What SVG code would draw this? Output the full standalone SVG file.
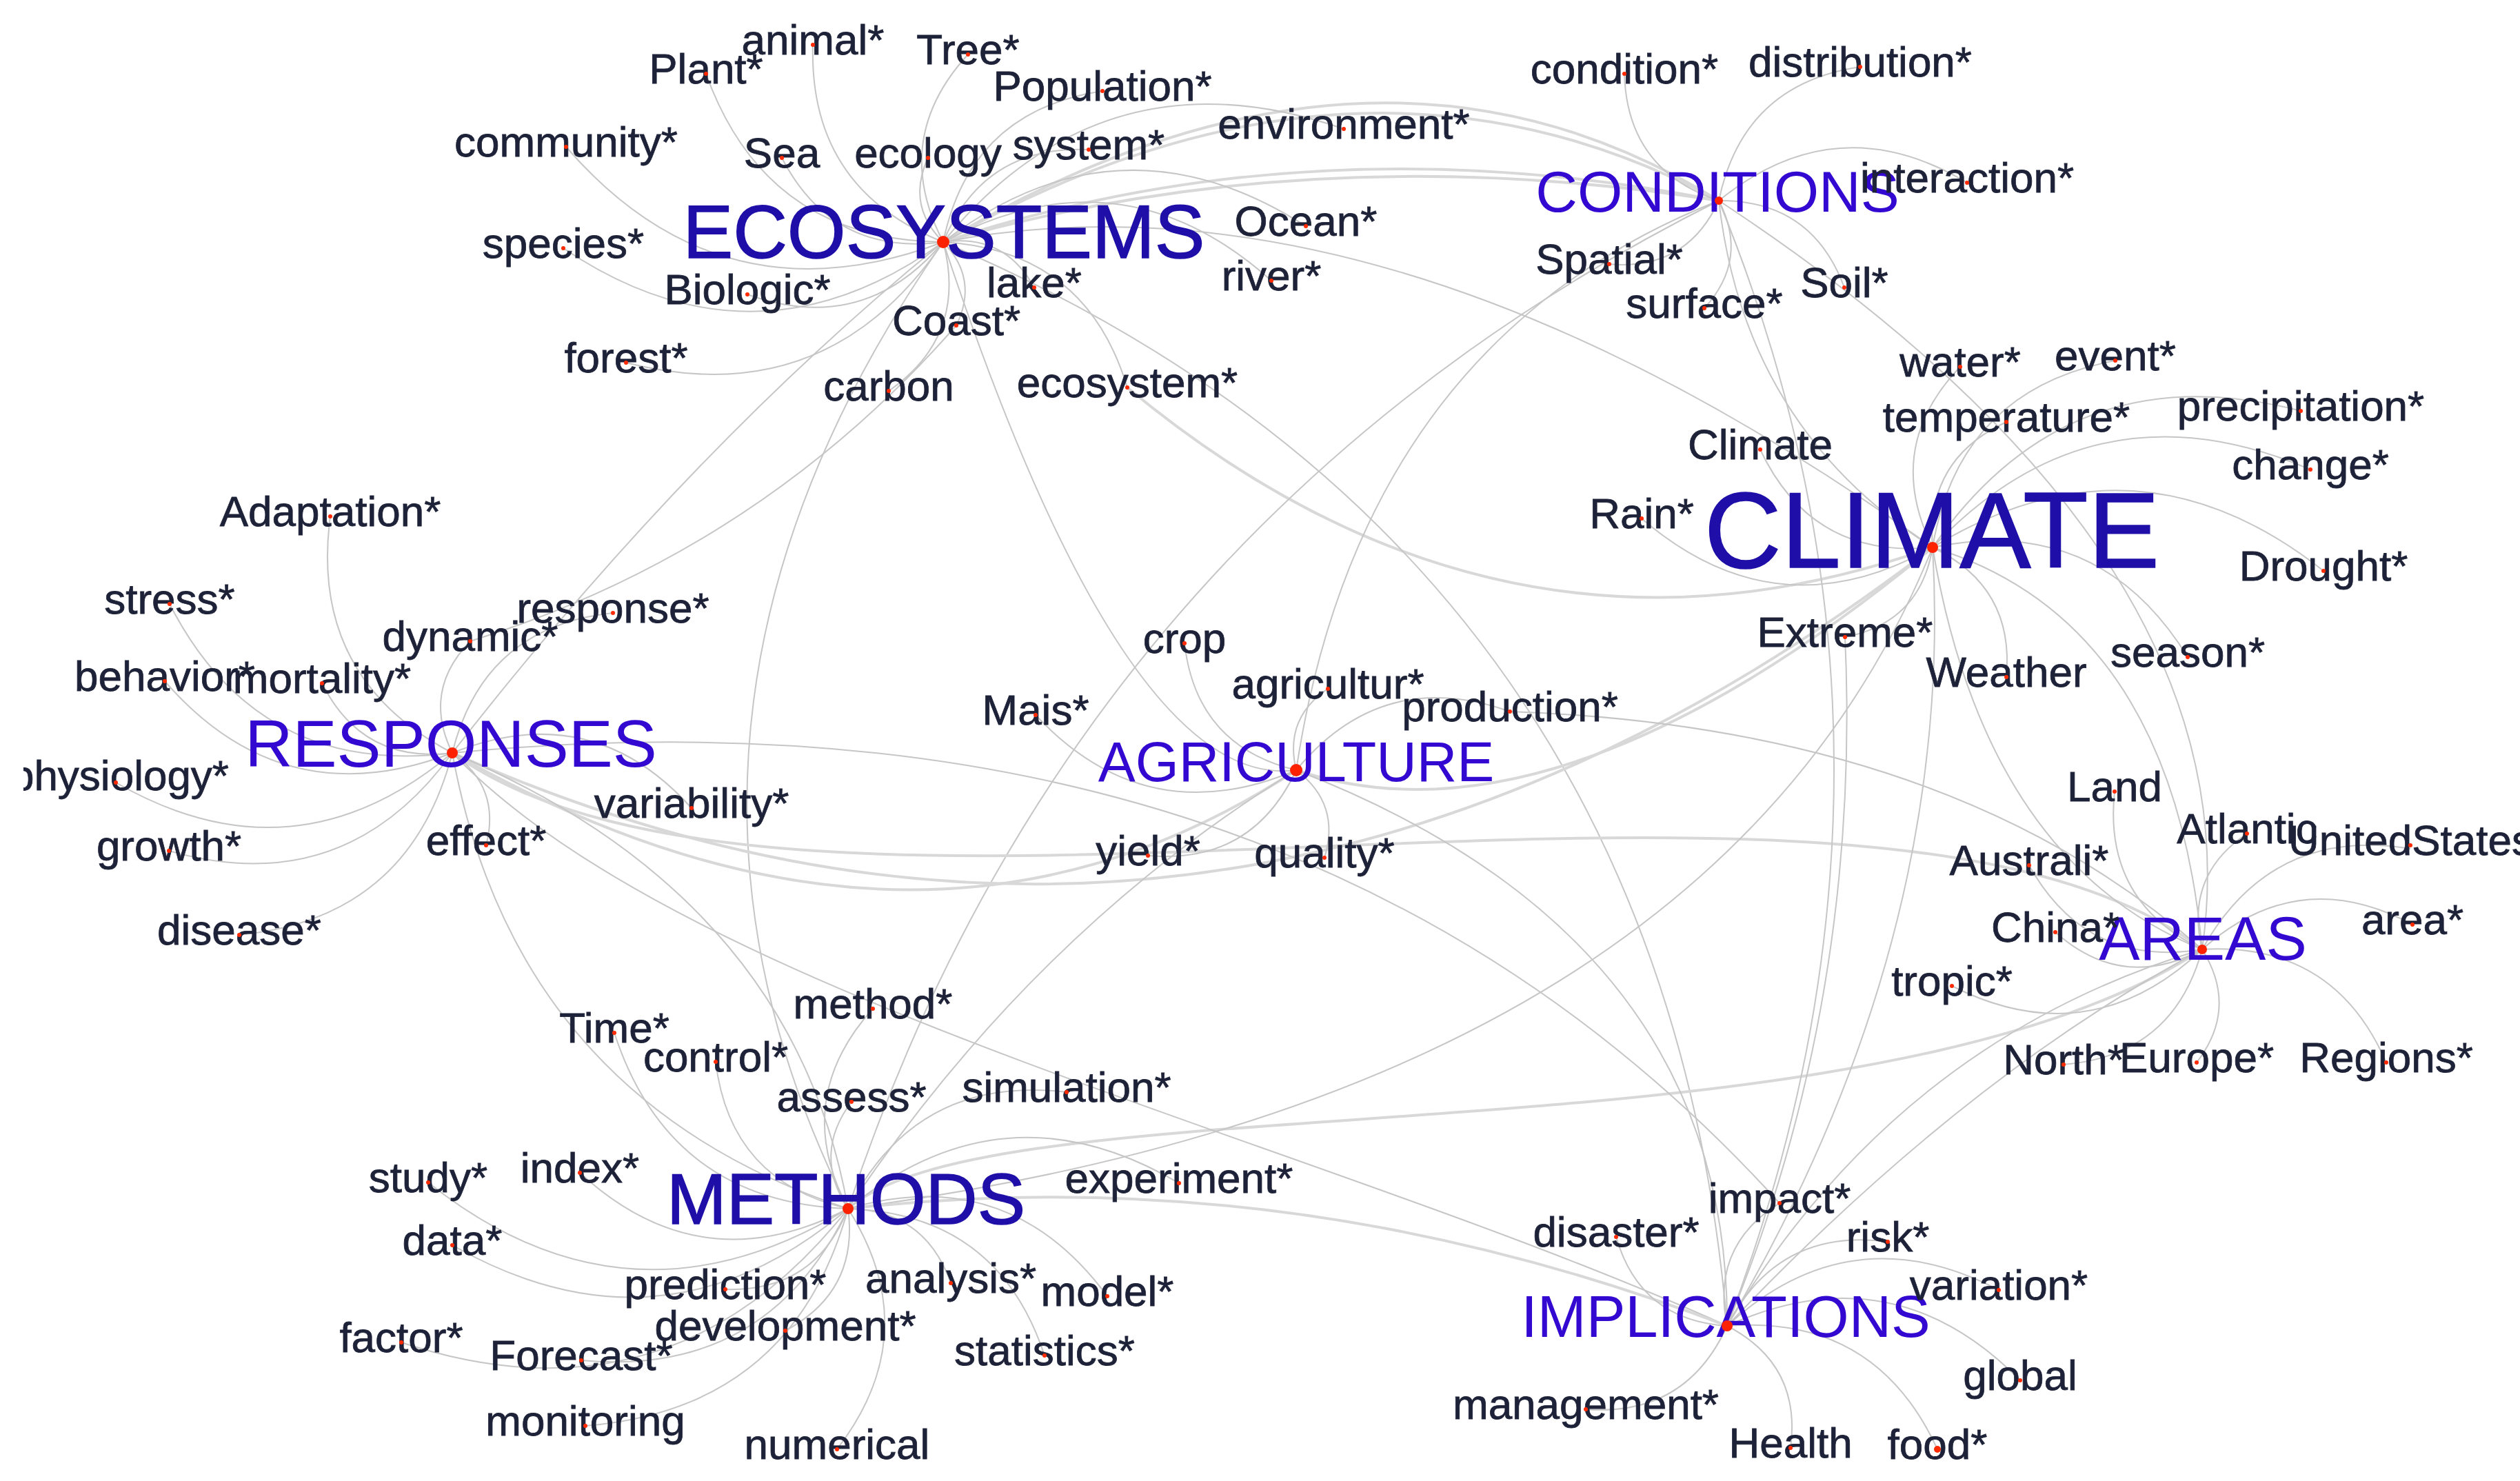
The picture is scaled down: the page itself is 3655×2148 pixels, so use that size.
<svg xmlns="http://www.w3.org/2000/svg" width="3655" height="2148" viewBox="0 0 3655 2148">
<style>
.e{fill:none;stroke:#c6c6c6;stroke-width:2}
.w{fill:none;stroke:#d8d8d8;stroke-width:4}
.l{font-family:"Liberation Sans",Arial,sans-serif;font-size:62px;fill:#1d2238;stroke:#1d2238;stroke-width:0.8;text-anchor:middle}
.h{font-family:"Liberation Sans",Arial,sans-serif;text-anchor:middle}
.h1{fill:#1f0fa8;stroke:#1f0fa8;stroke-width:1.5}
.h2{fill:#3309d2}
.d{fill:#ff2a00}
.hd{fill:#ff2200}
</style>
<defs>
<clipPath id="leftcrop"><rect x="34" y="0" width="3621" height="2148"/></clipPath>
</defs>
<rect x="0" y="0" width="3655" height="2148" fill="#ffffff"/>
<g id="edges">
<path class="w" d="M1368,351 Q1990,-20 2493,291"/>
<path class="w" d="M1368,351 Q1970,10 2493,291"/>
<path class="w" d="M1368,351 Q1900,175 2493,291"/>
<path class="w" d="M1368,351 Q1900,198 2493,291"/>
<path class="e" d="M1368,351 Q2014,228 2803,794"/>
<path class="w" d="M1635,562 Q2181,1015 2803,794"/>
<path class="e" d="M1368,351 Q879,1052 1230,1753"/>
<path class="e" d="M1368,351 Q1000,650 656,1092"/>
<path class="e" d="M1387,472 Q1100,800 682,930"/>
<path class="e" d="M1368,351 Q1632,1150 1880,1117"/>
<path class="e" d="M1368,351 Q2409,795 2505,1923"/>
<path class="e" d="M2493,291 Q1558,760 1230,1753"/>
<path class="e" d="M2493,291 Q1974,496 1880,1117"/>
<path class="w" d="M656,1092 Q1332,1476 1880,1117"/>
<path class="w" d="M656,1092 Q1770,1587 2803,794"/>
<path class="w" d="M656,1092 C1150,1450 2700,1000 3194,1377"/>
<path class="w" d="M1880,1117 Q2258,1244 2803,794"/>
<path class="w" d="M1230,1753 C1450,1560 2700,1700 3194,1377"/>
<path class="e" d="M1230,1753 Q2484,1586 2803,794"/>
<path class="e" d="M1230,1753 Q1500,1350 1880,1117"/>
<path class="e" d="M656,1092 C1000,1450 1900,1650 2505,1923"/>
<path class="e" d="M656,1092 Q1882,974 2581,1745"/>
<path class="e" d="M1880,1117 Q2508,1360 2505,1923"/>
<path class="e" d="M2190,1032 Q2828,1054 3194,1377"/>
<path class="e" d="M2803,794 Q2836,1362 2505,1923"/>
<path class="e" d="M2493,291 Q2821,1093 2505,1923"/>
<path class="e" d="M2493,291 Q3276,806 3194,1377"/>
<path class="e" d="M2803,794 Q3150,900 3194,1377"/>
<path class="e" d="M2803,794 Q2880,1250 3194,1377"/>
<path class="e" d="M2493,291 Q2530,620 2803,794"/>
<path class="e" d="M656,1092 Q747,1593 1230,1753"/>
<path class="e" d="M656,1092 Q1150,1300 1230,1753"/>
<path class="w" d="M1230,1753 Q1870,1680 2505,1923"/>
<path class="e" d="M3194,1377 Q2750,1510 2505,1923"/>
<path class="e" d="M3194,1377 Q2850,1560 2505,1923"/>
<path class="e" d="M2676,924 Q2700,1450 2505,1923"/>
<path class="e" d="M1024,107 Q1111,349 1368,351"/>
<path class="e" d="M1179,65 Q1173,274 1368,351"/>
<path class="e" d="M1404,79 Q1291,202 1368,351"/>
<path class="e" d="M1599,132 Q1407,161 1368,351"/>
<path class="e" d="M821,213 Q1046,473 1368,351"/>
<path class="e" d="M1134,229 Q1208,372 1368,351"/>
<path class="e" d="M1346,229 Q1314,298 1368,351"/>
<path class="e" d="M1579,217 Q1427,210 1368,351"/>
<path class="e" d="M1949,187 Q1601,66 1368,351"/>
<path class="e" d="M817,360 Q1096,548 1368,351"/>
<path class="e" d="M1084,427 Q1253,488 1368,351"/>
<path class="e" d="M1500,417 Q1457,338 1368,351"/>
<path class="e" d="M1894,328 Q1623,155 1368,351"/>
<path class="e" d="M1844,407 Q1626,212 1368,351"/>
<path class="e" d="M1387,472 Q1420,405 1368,351"/>
<path class="e" d="M908,526 Q1199,600 1368,351"/>
<path class="e" d="M1289,567 Q1404,487 1368,351"/>
<path class="e" d="M1635,562 Q1575,363 1368,351"/>
<path class="e" d="M2356,107 Q2360,247 2493,291"/>
<path class="e" d="M2698,97 Q2528,122 2493,291"/>
<path class="e" d="M2853,265 Q2664,152 2493,291"/>
<path class="e" d="M2334,383 Q2446,393 2493,291"/>
<path class="e" d="M2472,447 Q2537,376 2493,291"/>
<path class="e" d="M2675,417 Q2628,290 2493,291"/>
<path class="e" d="M2843,532 Q2731,649 2803,794"/>
<path class="e" d="M3068,523 Q2841,566 2803,794"/>
<path class="e" d="M2910,612 Q2793,666 2803,794"/>
<path class="e" d="M3337,596 Q3001,508 2803,794"/>
<path class="e" d="M2553,652 Q2628,811 2803,794"/>
<path class="e" d="M3351,681 Q3037,546 2803,794"/>
<path class="e" d="M2381,752 Q2577,921 2803,794"/>
<path class="e" d="M3370,828 Q3098,613 2803,794"/>
<path class="e" d="M2676,924 Q2785,903 2803,794"/>
<path class="e" d="M2910,982 Q2922,851 2803,794"/>
<path class="e" d="M3173,953 Q3044,744 2803,794"/>
<path class="e" d="M3067,1148 Q3050,1307 3194,1377"/>
<path class="e" d="M3259,1209 Q3168,1270 3194,1377"/>
<path class="e" d="M3496,1231 Q3294,1198 3194,1377"/>
<path class="e" d="M2943,1255 Q3026,1404 3194,1377"/>
<path class="e" d="M2981,1352 Q3079,1439 3194,1377"/>
<path class="e" d="M3499,1341 Q3334,1252 3194,1377"/>
<path class="e" d="M2831,1430 Q3031,1531 3194,1377"/>
<path class="e" d="M2993,1544 Q3152,1531 3194,1377"/>
<path class="e" d="M3186,1541 Q3247,1462 3194,1377"/>
<path class="e" d="M3461,1541 Q3385,1366 3194,1377"/>
<path class="e" d="M479,749 Q448,983 656,1092"/>
<path class="e" d="M246,876 Q375,1128 656,1092"/>
<path class="e" d="M889,889 Q701,909 656,1092"/>
<path class="e" d="M682,930 Q612,1002 656,1092"/>
<path class="e" d="M239,988 Q411,1186 656,1092"/>
<path class="e" d="M467,991 Q526,1108 656,1092"/>
<path class="e" d="M168,1135 Q427,1284 656,1092"/>
<path class="e" d="M245,1234 Q500,1307 656,1092"/>
<path class="e" d="M705,1226 Q727,1142 656,1092"/>
<path class="e" d="M1003,1172 Q858,1011 656,1092"/>
<path class="e" d="M347,1356 Q594,1332 656,1092"/>
<path class="e" d="M1718,933 Q1735,1082 1880,1117"/>
<path class="e" d="M1926,999 Q1862,1042 1880,1117"/>
<path class="e" d="M2190,1032 Q2005,966 1880,1117"/>
<path class="e" d="M1502,1037 Q1663,1209 1880,1117"/>
<path class="e" d="M1665,1241 Q1816,1254 1880,1117"/>
<path class="e" d="M1921,1244 Q1945,1166 1880,1117"/>
<path class="e" d="M1266,1463 Q1147,1595 1230,1753"/>
<path class="e" d="M891,1498 Q971,1744 1230,1753"/>
<path class="e" d="M1038,1540 Q1059,1714 1230,1753"/>
<path class="e" d="M1235,1598 Q1178,1674 1230,1753"/>
<path class="e" d="M1547,1584 Q1329,1558 1230,1753"/>
<path class="e" d="M621,1715 Q912,1947 1230,1753"/>
<path class="e" d="M841,1701 Q1017,1863 1230,1753"/>
<path class="e" d="M1710,1716 Q1457,1567 1230,1753"/>
<path class="e" d="M656,1806 Q962,1980 1230,1753"/>
<path class="e" d="M1052,1870 Q1182,1874 1230,1753"/>
<path class="e" d="M1379,1861 Q1342,1755 1230,1753"/>
<path class="e" d="M1606,1880 Q1462,1685 1230,1753"/>
<path class="e" d="M1139,1930 Q1246,1873 1230,1753"/>
<path class="e" d="M582,1947 Q974,2077 1230,1753"/>
<path class="e" d="M843,1973 Q1113,1998 1230,1753"/>
<path class="e" d="M1515,1966 Q1447,1760 1230,1753"/>
<path class="e" d="M849,2068 Q1150,2044 1230,1753"/>
<path class="e" d="M1214,2102 Q1344,1933 1230,1753"/>
<path class="e" d="M2581,1745 Q2481,1807 2505,1923"/>
<path class="e" d="M2344,1794 Q2379,1915 2505,1923"/>
<path class="e" d="M2738,1801 Q2579,1780 2505,1923"/>
<path class="e" d="M2899,1871 Q2684,1759 2505,1923"/>
<path class="e" d="M2930,2002 Q2745,1814 2505,1923"/>
<path class="e" d="M2300,2044 Q2445,2055 2505,1923"/>
<path class="e" d="M2597,2100 Q2613,1979 2505,1923"/>
<path class="e" d="M2810,2102 Q2720,1906 2505,1923"/>
</g>
<g id="hub-ecosystems"><text class="h h1" x="1369" y="374" font-size="109">ECOSYSTEMS</text><circle class="hd" cx="1368" cy="351" r="9"/></g>
<g id="hub-conditions"><text class="h h2" x="2491" y="307" font-size="84">CONDITIONS</text><circle class="hd" cx="2493" cy="291" r="6"/></g>
<g id="hub-climate"><text class="h h1" x="2802" y="823" font-size="155">CLIMATE</text><circle class="hd" cx="2803" cy="794" r="8"/></g>
<g id="hub-responses"><text class="h h2" x="654" y="1112" font-size="96">RESPONSES</text><circle class="hd" cx="656" cy="1092" r="8"/></g>
<g id="hub-agriculture"><text class="h h2" x="1880" y="1133" font-size="81">AGRICULTURE</text><circle class="hd" cx="1880" cy="1117" r="9"/></g>
<g id="hub-areas"><text class="h h2" x="3195" y="1392" font-size="89">AREAS</text><circle class="hd" cx="3194" cy="1377" r="7"/></g>
<g id="hub-methods"><text class="h h1" x="1227" y="1775" font-size="104">METHODS</text><circle class="hd" cx="1230" cy="1753" r="8"/></g>
<g id="hub-implications"><text class="h h2" x="2503" y="1939" font-size="85">IMPLICATIONS</text><circle class="hd" cx="2505" cy="1923" r="8"/></g>
<g id="n-plant"><text class="l" x="1024" y="121">Plant*</text><circle class="d" cx="1024" cy="107" r="3"/></g>
<g id="n-animal"><text class="l" x="1179" y="79">animal*</text><circle class="d" cx="1179" cy="65" r="3"/></g>
<g id="n-tree"><text class="l" x="1404" y="93">Tree*</text><circle class="d" cx="1404" cy="79" r="3"/></g>
<g id="n-population"><text class="l" x="1599" y="146">Population*</text><circle class="d" cx="1599" cy="132" r="3"/></g>
<g id="n-community"><text class="l" x="821" y="227">community*</text><circle class="d" cx="821" cy="213" r="3"/></g>
<g id="n-sea"><text class="l" x="1134" y="243">Sea</text><circle class="d" cx="1134" cy="229" r="3"/></g>
<g id="n-ecology"><text class="l" x="1346" y="243">ecology</text><circle class="d" cx="1346" cy="229" r="3"/></g>
<g id="n-system"><text class="l" x="1579" y="231">system*</text><circle class="d" cx="1579" cy="217" r="3"/></g>
<g id="n-environment"><text class="l" x="1949" y="201">environment*</text><circle class="d" cx="1949" cy="187" r="3"/></g>
<g id="n-species"><text class="l" x="817" y="374">species*</text><circle class="d" cx="817" cy="360" r="3"/></g>
<g id="n-biologic"><text class="l" x="1084" y="441">Biologic*</text><circle class="d" cx="1084" cy="427" r="3"/></g>
<g id="n-lake"><text class="l" x="1500" y="431">lake*</text><circle class="d" cx="1500" cy="417" r="3"/></g>
<g id="n-ocean"><text class="l" x="1894" y="342">Ocean*</text><circle class="d" cx="1894" cy="328" r="3"/></g>
<g id="n-river"><text class="l" x="1844" y="421">river*</text><circle class="d" cx="1844" cy="407" r="3"/></g>
<g id="n-coast"><text class="l" x="1387" y="486">Coast*</text><circle class="d" cx="1387" cy="472" r="3"/></g>
<g id="n-forest"><text class="l" x="908" y="540">forest*</text><circle class="d" cx="908" cy="526" r="3"/></g>
<g id="n-carbon"><text class="l" x="1289" y="581">carbon</text><circle class="d" cx="1289" cy="567" r="3"/></g>
<g id="n-ecosystem"><text class="l" x="1635" y="576">ecosystem*</text><circle class="d" cx="1635" cy="562" r="3"/></g>
<g id="n-condition"><text class="l" x="2356" y="121">condition*</text><circle class="d" cx="2356" cy="107" r="3"/></g>
<g id="n-distribution"><text class="l" x="2698" y="111">distribution*</text><circle class="d" cx="2698" cy="97" r="3"/></g>
<g id="n-interaction"><text class="l" x="2853" y="279">interaction*</text><circle class="d" cx="2853" cy="265" r="3"/></g>
<g id="n-spatial"><text class="l" x="2334" y="397">Spatial*</text><circle class="d" cx="2334" cy="383" r="3"/></g>
<g id="n-surface"><text class="l" x="2472" y="461">surface*</text><circle class="d" cx="2472" cy="447" r="3"/></g>
<g id="n-soil"><text class="l" x="2675" y="431">Soil*</text><circle class="d" cx="2675" cy="417" r="3"/></g>
<g id="n-water"><text class="l" x="2843" y="546">water*</text><circle class="d" cx="2843" cy="532" r="3"/></g>
<g id="n-event"><text class="l" x="3068" y="537">event*</text><circle class="d" cx="3068" cy="523" r="3"/></g>
<g id="n-temperature"><text class="l" x="2910" y="626">temperature*</text><circle class="d" cx="2910" cy="612" r="3"/></g>
<g id="n-precipitation"><text class="l" x="3337" y="610">precipitation*</text><circle class="d" cx="3337" cy="596" r="3"/></g>
<g id="n-climate"><text class="l" x="2553" y="666">Climate</text><circle class="d" cx="2553" cy="652" r="3"/></g>
<g id="n-change"><text class="l" x="3351" y="695">change*</text><circle class="d" cx="3351" cy="681" r="3"/></g>
<g id="n-rain"><text class="l" x="2381" y="766">Rain*</text><circle class="d" cx="2381" cy="752" r="3"/></g>
<g id="n-drought"><text class="l" x="3370" y="842">Drought*</text><circle class="d" cx="3370" cy="828" r="3"/></g>
<g id="n-extreme"><text class="l" x="2676" y="938">Extreme*</text><circle class="d" cx="2676" cy="924" r="3"/></g>
<g id="n-weather"><text class="l" x="2910" y="996">Weather</text><circle class="d" cx="2910" cy="982" r="3"/></g>
<g id="n-season"><text class="l" x="3173" y="967">season*</text><circle class="d" cx="3173" cy="953" r="3"/></g>
<g id="n-land"><text class="l" x="3067" y="1162">Land</text><circle class="d" cx="3067" cy="1148" r="3"/></g>
<g id="n-atlantic"><text class="l" x="3259" y="1223">Atlantic</text><circle class="d" cx="3259" cy="1209" r="3"/></g>
<g id="n-unitedstates"><text class="l" x="3319" y="1240" style="text-anchor:start">UnitedStates</text><circle class="d" cx="3496" cy="1226" r="3"/></g>
<g id="n-australi"><text class="l" x="2943" y="1269">Australi*</text><circle class="d" cx="2943" cy="1255" r="3"/></g>
<g id="n-china"><text class="l" x="2981" y="1366">China*</text><circle class="d" cx="2981" cy="1352" r="3"/></g>
<g id="n-area"><text class="l" x="3499" y="1355">area*</text><circle class="d" cx="3499" cy="1341" r="3"/></g>
<g id="n-tropic"><text class="l" x="2831" y="1444">tropic*</text><circle class="d" cx="2831" cy="1430" r="3"/></g>
<g id="n-north"><text class="l" x="2993" y="1558">North*</text><circle class="d" cx="2993" cy="1544" r="3"/></g>
<g id="n-europe"><text class="l" x="3186" y="1555">Europe*</text><circle class="d" cx="3186" cy="1541" r="3"/></g>
<g id="n-regions"><text class="l" x="3461" y="1555">Regions*</text><circle class="d" cx="3461" cy="1541" r="3"/></g>
<g id="n-adaptation"><text class="l" x="479" y="763">Adaptation*</text><circle class="d" cx="479" cy="749" r="3"/></g>
<g id="n-stress"><text class="l" x="246" y="890">stress*</text><circle class="d" cx="246" cy="876" r="3"/></g>
<g id="n-response"><text class="l" x="889" y="903">response*</text><circle class="d" cx="889" cy="889" r="3"/></g>
<g id="n-dynamic"><text class="l" x="682" y="944">dynamic*</text><circle class="d" cx="682" cy="930" r="3"/></g>
<g id="n-behavior"><text class="l" x="239" y="1002">behavior*</text><circle class="d" cx="239" cy="988" r="3"/></g>
<g id="n-mortality"><text class="l" x="467" y="1005">mortality*</text><circle class="d" cx="467" cy="991" r="3"/></g>
<g id="n-physiology" clip-path="url(#leftcrop)"><text class="l" x="332" y="1146" style="text-anchor:end">physiology*</text><circle class="d" cx="168" cy="1135" r="3"/></g>
<g id="n-growth"><text class="l" x="245" y="1248">growth*</text><circle class="d" cx="245" cy="1234" r="3"/></g>
<g id="n-effect"><text class="l" x="705" y="1240">effect*</text><circle class="d" cx="705" cy="1226" r="3"/></g>
<g id="n-variability"><text class="l" x="1003" y="1186">variability*</text><circle class="d" cx="1003" cy="1172" r="3"/></g>
<g id="n-disease"><text class="l" x="347" y="1370">disease*</text><circle class="d" cx="347" cy="1356" r="3"/></g>
<g id="n-crop"><text class="l" x="1718" y="947">crop</text><circle class="d" cx="1718" cy="933" r="3"/></g>
<g id="n-agricultur"><text class="l" x="1926" y="1013">agricultur*</text><circle class="d" cx="1926" cy="999" r="3"/></g>
<g id="n-production"><text class="l" x="2190" y="1046">production*</text><circle class="d" cx="2190" cy="1032" r="3"/></g>
<g id="n-mais"><text class="l" x="1502" y="1051">Mais*</text><circle class="d" cx="1502" cy="1037" r="3"/></g>
<g id="n-yield"><text class="l" x="1665" y="1255">yield*</text><circle class="d" cx="1665" cy="1241" r="3"/></g>
<g id="n-quality"><text class="l" x="1921" y="1258">quality*</text><circle class="d" cx="1921" cy="1244" r="3"/></g>
<g id="n-method"><text class="l" x="1266" y="1477">method*</text><circle class="d" cx="1266" cy="1463" r="3"/></g>
<g id="n-time"><text class="l" x="891" y="1512">Time*</text><circle class="d" cx="891" cy="1498" r="3"/></g>
<g id="n-control"><text class="l" x="1038" y="1554">control*</text><circle class="d" cx="1038" cy="1540" r="3"/></g>
<g id="n-assess"><text class="l" x="1235" y="1612">assess*</text><circle class="d" cx="1235" cy="1598" r="3"/></g>
<g id="n-simulation"><text class="l" x="1547" y="1598">simulation*</text><circle class="d" cx="1547" cy="1584" r="3"/></g>
<g id="n-study"><text class="l" x="621" y="1729">study*</text><circle class="d" cx="621" cy="1715" r="3"/></g>
<g id="n-index"><text class="l" x="841" y="1715">index*</text><circle class="d" cx="841" cy="1701" r="3"/></g>
<g id="n-experiment"><text class="l" x="1710" y="1730">experiment*</text><circle class="d" cx="1710" cy="1716" r="3"/></g>
<g id="n-data"><text class="l" x="656" y="1820">data*</text><circle class="d" cx="656" cy="1806" r="3"/></g>
<g id="n-prediction"><text class="l" x="1052" y="1884">prediction*</text><circle class="d" cx="1052" cy="1870" r="3"/></g>
<g id="n-analysis"><text class="l" x="1379" y="1875">analysis*</text><circle class="d" cx="1379" cy="1861" r="3"/></g>
<g id="n-model"><text class="l" x="1606" y="1894">model*</text><circle class="d" cx="1606" cy="1880" r="3"/></g>
<g id="n-development"><text class="l" x="1139" y="1944">development*</text><circle class="d" cx="1139" cy="1930" r="3"/></g>
<g id="n-factor"><text class="l" x="582" y="1961">factor*</text><circle class="d" cx="582" cy="1947" r="3"/></g>
<g id="n-forecast"><text class="l" x="843" y="1987">Forecast*</text><circle class="d" cx="843" cy="1973" r="3"/></g>
<g id="n-statistics"><text class="l" x="1515" y="1980">statistics*</text><circle class="d" cx="1515" cy="1966" r="3"/></g>
<g id="n-monitoring"><text class="l" x="849" y="2082">monitoring</text><circle class="d" cx="849" cy="2068" r="3"/></g>
<g id="n-numerical"><text class="l" x="1214" y="2116">numerical</text><circle class="d" cx="1214" cy="2102" r="3"/></g>
<g id="n-impact"><text class="l" x="2581" y="1759">impact*</text><circle class="d" cx="2581" cy="1745" r="3"/></g>
<g id="n-disaster"><text class="l" x="2344" y="1808">disaster*</text><circle class="d" cx="2344" cy="1794" r="3"/></g>
<g id="n-risk"><text class="l" x="2738" y="1815">risk*</text><circle class="d" cx="2738" cy="1801" r="3"/></g>
<g id="n-variation"><text class="l" x="2899" y="1885">variation*</text><circle class="d" cx="2899" cy="1871" r="3"/></g>
<g id="n-global"><text class="l" x="2930" y="2016">global</text><circle class="d" cx="2930" cy="2002" r="3"/></g>
<g id="n-management"><text class="l" x="2300" y="2058">management*</text><circle class="d" cx="2300" cy="2044" r="3"/></g>
<g id="n-health"><text class="l" x="2597" y="2114">Health</text><circle class="d" cx="2597" cy="2100" r="3"/></g>
<g id="n-food"><text class="l" x="2810" y="2116">food*</text><circle class="d" cx="2810" cy="2102" r="5"/></g>
</svg>
